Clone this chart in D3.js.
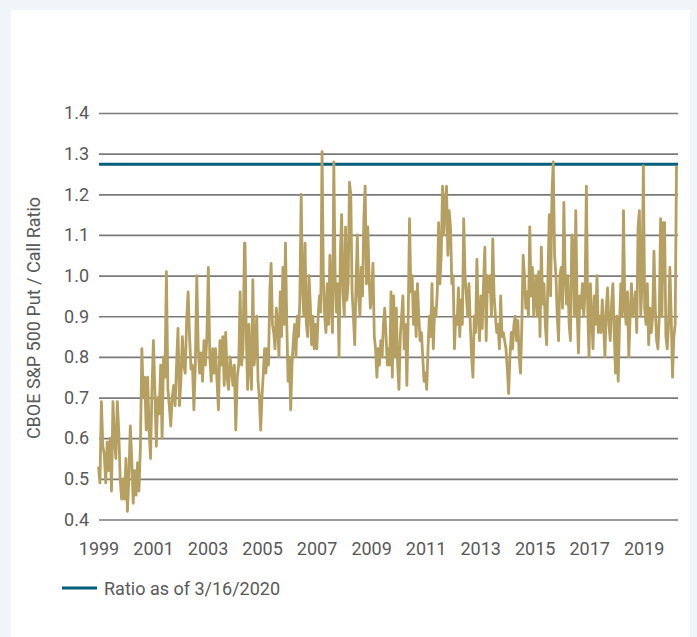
<!DOCTYPE html>
<html>
<head>
<meta charset="utf-8">
<script src="https://cdn.jsdelivr.net/npm/d3@7"></script>
<style>
  html, body { margin: 0; padding: 0; background: #eff5f8; }
  svg { display: block; }
  text { font-family: Roboto, "Liberation Sans", sans-serif; fill: #595959; }
</style>
</head>
<body>
<script>
// put/call ratio, split in four stretches of time
const ratio1999 = [0.53, 0.49, 0.69, 0.58, 0.56, 0.49, 0.59, 0.52, 0.60, 0.47, 0.69, 0.60, 0.55, 0.69, 0.62, 0.50,
  0.45, 0.50, 0.45, 0.55, 0.42, 0.50, 0.63, 0.55, 0.44, 0.52, 0.46, 0.54, 0.47, 0.58, 0.82, 0.70, 0.75, 0.62,
  0.75, 0.62, 0.55, 0.72, 0.84, 0.72, 0.58, 0.70, 0.66, 0.78, 0.60, 0.80, 0.75, 1.01, 0.72, 0.68, 0.63, 0.70,
  0.73, 0.68, 0.78, 0.87, 0.68, 0.74, 0.85, 0.78, 0.76, 0.89, 0.96, 0.85, 0.77, 0.78, 0.67, 0.78, 1.00, 0.82,
  0.76, 0.81, 0.74, 0.84, 0.78, 0.85, 1.02, 0.80, 0.74, 0.82, 0.76, 0.82, 0.74, 0.67, 0.84, 0.78, 0.85, 0.73,
  0.86, 0.75, 0.72, 0.80, 0.77, 0.73, 0.78, 0.62, 0.75, 0.78, 0.96, 0.78, 0.82, 1.08];
const ratio2004 = [1.08, 0.85, 0.72, 0.88, 0.78, 0.72, 0.99, 0.78, 0.82, 0.90, 0.74, 0.70, 0.62, 0.70, 0.76, 0.82,
  0.76, 0.82, 0.78, 0.96, 1.03, 0.88, 0.86, 0.82, 0.92, 0.88, 0.80, 0.96, 0.85, 1.02, 0.88, 1.08, 0.88, 0.74,
  0.80, 0.67, 0.78, 0.84, 0.88, 0.80, 0.90, 0.85, 0.94, 1.20, 0.98, 0.90, 1.08, 0.88, 0.85, 1.00, 0.93, 0.83,
  0.90, 0.82, 0.88, 0.82, 0.90, 0.95, 0.91, 1.305, 1.00, 0.90, 0.86, 0.98, 0.88, 1.05, 0.93, 0.86, 1.28, 1.00,
  0.91, 0.98, 0.80, 1.05, 1.15, 0.96, 0.90, 1.12, 0.94, 0.98, 1.23, 1.20, 0.96, 0.90, 0.83, 0.98, 1.10, 0.95,
  0.90, 1.02, 0.95, 1.14, 1.22, 0.98, 1.12, 1.00, 0.92, 0.95, 1.03, 0.85, 0.82, 0.75, 0.82, 0.78, 0.84, 0.80,
  0.88, 0.92, 0.85, 0.78, 0.82];
const ratio2009 = [0.78, 0.96, 0.75, 0.95, 0.80, 0.92, 0.78, 0.72, 0.85, 0.90, 0.95, 0.82, 0.88, 0.73, 0.90, 1.14,
  0.96, 1.00, 0.88, 0.96, 0.85, 0.98, 0.90, 0.84, 0.86, 0.80, 0.74, 0.76, 0.72, 0.82, 0.90, 0.85, 0.98, 0.82,
  0.92, 0.90, 0.96, 1.13, 0.98, 1.05, 1.22, 1.10, 1.18, 1.22, 1.05, 1.16, 1.12, 0.98, 1.00, 0.82, 0.90, 0.88,
  0.97, 0.85, 0.94, 0.88, 1.14, 1.00, 0.95, 0.90, 0.98, 0.88, 0.80, 0.75, 0.90, 0.86, 1.04, 0.90, 0.84, 0.95,
  0.87, 0.98, 1.07, 0.84, 1.00, 0.96, 1.00, 0.90, 1.09, 0.95, 0.90, 0.86, 0.88, 0.82, 0.95, 0.85, 0.86, 0.84,
  0.82, 0.77, 0.71, 0.80, 0.86, 0.82, 0.88, 0.90, 0.84, 0.89, 0.80, 0.76, 0.88, 1.05, 1.00, 0.92, 0.96, 0.90,
  1.12, 0.95, 1.02, 0.90];
const ratio2015 = [0.95, 1.00, 0.90, 1.01, 0.85, 1.07, 0.93, 0.98, 0.88, 0.83, 1.00, 1.15, 0.95, 1.20, 1.28, 1.05,
  1.00, 0.90, 0.84, 1.00, 1.02, 0.92, 1.18, 1.00, 0.93, 1.00, 0.88, 0.84, 1.10, 1.08, 0.90, 1.16, 0.92, 0.81,
  0.95, 0.92, 0.98, 0.90, 0.96, 1.22, 0.92, 0.80, 0.98, 0.90, 0.82, 0.95, 0.88, 1.00, 0.86, 0.90, 0.86, 0.94,
  0.88, 0.80, 0.92, 0.97, 0.88, 0.84, 0.93, 0.98, 0.86, 0.76, 0.90, 0.74, 0.88, 0.98, 0.90, 1.16, 0.92, 0.88,
  0.96, 0.80, 0.90, 0.98, 0.90, 0.92, 0.96, 0.86, 1.12, 1.16, 0.90, 0.98, 1.27, 0.92, 0.88, 0.98, 0.83, 0.92,
  0.86, 0.90, 1.06, 0.92, 0.84, 0.82, 0.90, 1.14, 0.90, 1.13, 1.13, 0.85, 0.82, 0.88, 1.02, 0.90, 0.75, 0.85,
  0.88, 1.27];

// first and last date of each stretch
const stretches = [
  { from: "1999-01-01", to: "2004-05-10", values: ratio1999 },
  { from: "2004-05-17", to: "2009-08-24", values: ratio2004 },
  { from: "2009-09-07", to: "2014-12-20", values: ratio2009 },
  { from: "2015-01-02", to: "2020-03-16", values: ratio2015 }
];

const latestRatio = 1.274;
const latestLabel = "Ratio as of 3/16/2020";
const yTicks = [0.4, 0.5, 0.6, 0.7, 0.8, 0.9, 1.0, 1.1, 1.2, 1.3, 1.4];
const yearTicks = [1999, 2001, 2003, 2005, 2007, 2009, 2011, 2013, 2015, 2017, 2019];
const yTitle = "CBOE S&P 500 Put / Call Ratio";

const parse = d3.timeParse("%Y-%m-%d");
const series = [];
stretches.forEach((s) => {
  const t0 = parse(s.from).getTime();
  const t1 = parse(s.to).getTime();
  const n = s.values.length;
  s.values.forEach((v, i) => {
    series.push({ date: new Date(t0 + (t1 - t0) * i / (n - 1)), value: v });
  });
});

const w = 697;
const h = 637;
const plotLeft = 99;
const plotRight = 678;
const plotTop = 113;
const plotBottom = 519.5;
const fontSize = "18px";

const svg = d3.select("body")
  .append("svg")
  .attr("width", w)
  .attr("height", h);

// white card
svg.append("rect")
  .attr("x", 11)
  .attr("y", 10)
  .attr("width", 679)
  .attr("height", h - 10)
  .attr("fill", "#ffffff");

// Scales
const xScale = d3.scaleTime()
  .domain([new Date(1999, 0, 1), parse("2020-03-16")])
  .range([98.5, 676.5]);

const yScale = d3.scaleLinear()
  .domain([0.4, 1.4])
  .range([plotBottom, plotTop]);

// Axes
const yAxis = d3.axisLeft(yScale)
  .tickValues(yTicks)
  .tickSize(-(plotRight - plotLeft))
  .tickPadding(10)
  .tickFormat(d3.format(".1f"));

const gy = svg.append("g")
  .attr("id", "y-axis")
  .attr("transform", `translate(${plotLeft}, 0)`)
  .call(yAxis);
gy.select(".domain").remove();
gy.selectAll(".tick line")
  .attr("stroke", "#7a7a7a")
  .attr("stroke-width", 1.7);
gy.selectAll(".tick text")
  .style("font-size", fontSize)
  .attr("fill", "#595959");

const xAxis = d3.axisBottom(xScale)
  .tickValues(yearTicks.map((y) => new Date(y, 0, 1)))
  .tickSize(0)
  .tickPadding(23)
  .tickFormat(d3.timeFormat("%Y"));

const gx = svg.append("g")
  .attr("id", "x-axis")
  .attr("transform", `translate(0, ${plotBottom})`)
  .call(xAxis);
gx.select(".domain").remove();
gx.selectAll(".tick text")
  .style("font-size", fontSize)
  .attr("fill", "#595959");

// latest ratio reference line
svg.append("line")
  .attr("x1", plotLeft)
  .attr("x2", plotRight)
  .attr("y1", yScale(latestRatio))
  .attr("y2", yScale(latestRatio))
  .attr("stroke", "#005f7b")
  .attr("stroke-width", 3);

// the ratio itself
const line = d3.line()
  .x((d) => xScale(d.date))
  .y((d) => yScale(d.value));

svg.append("path")
  .datum(series)
  .attr("d", line)
  .attr("fill", "none")
  .attr("stroke", "#b5a061")
  .attr("stroke-width", 2.8)
  .attr("stroke-linejoin", "round");

// y title
svg.append("text")
  .attr("transform", `translate(40, 318) rotate(-90)`)
  .attr("text-anchor", "middle")
  .style("font-size", fontSize)
  .text(yTitle);

// legend
svg.append("line")
  .attr("x1", 62)
  .attr("x2", 97)
  .attr("y1", 588)
  .attr("y2", 588)
  .attr("stroke", "#005f7b")
  .attr("stroke-width", 3);

svg.append("text")
  .attr("x", 104)
  .attr("y", 594.5)
  .style("font-size", fontSize)
  .text(latestLabel);
</script>
</body>
</html>
